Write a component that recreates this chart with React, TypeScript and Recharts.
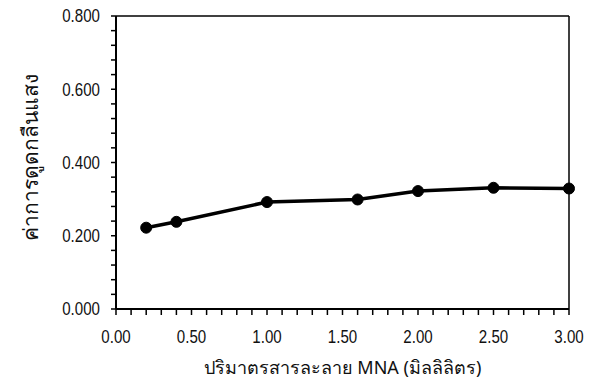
import { LineChart, Line, XAxis, YAxis, ReferenceLine, Label } from 'recharts';

// MNA volume (ml) vs absorbance
const volumes = [0.2, 0.4, 1.0, 1.6, 2.0, 2.5, 3.0];
const absorbance = [0.222, 0.238, 0.292, 0.299, 0.322, 0.331, 0.329];

const xTicks = [
	0, 0.1, 0.2, 0.3, 0.4, 0.5, 0.6, 0.7, 0.8, 0.9, 1.0, 1.1, 1.2, 1.3, 1.4, 1.5,
	1.6, 1.7, 1.8, 1.9, 2.0, 2.1, 2.2, 2.3, 2.4, 2.5, 2.6, 2.7, 2.8, 2.9, 3.0,
];
const xLabels = ['0.00', '0.50', '1.00', '1.50', '2.00', '2.50', '3.00'];
const yTicks = [
	0, 0.04, 0.08, 0.12, 0.16, 0.2, 0.24, 0.28, 0.32, 0.36, 0.4, 0.44, 0.48, 0.52,
	0.56, 0.6, 0.64, 0.68, 0.72, 0.76, 0.8,
];
const yLabels = ['0.000', '0.200', '0.400', '0.600', '0.800'];

const xTitle = 'ปริมาตรสารละลาย MNA (มิลลิลิตร)';
const yTitle = 'ค่าการดูดกลืนแสง';

const data = volumes.map((v, i) => ({ x: v, y: absorbance[i] }));

const FONT = '"Liberation Sans", Arial, sans-serif';
const THAI = '"Noto Sans", sans-serif';

// narrow-looking tick text (squeezed horizontally)
function XTick(props: any) {
	const { x, y, payload } = props;
	const s = Number(payload.value).toFixed(2);
	if (!xLabels.includes(s)) return null;
	return (
		<text
			transform={`translate(${x},${y}) scale(0.84,1)`}
			textAnchor="middle"
			dy="0.71em"
			fontSize={18}
			fontFamily={FONT}
			fill="#111"
		>
			{s}
		</text>
	);
}

function YTick(props: any) {
	const { x, y, payload } = props;
	const s = Number(payload.value).toFixed(3);
	if (!yLabels.includes(s)) return null;
	return (
		<text
			transform={`translate(${x},${y}) scale(0.84,1)`}
			textAnchor="end"
			dy="0.355em"
			fontSize={18}
			fontFamily={FONT}
			fill="#111"
		>
			{s}
		</text>
	);
}

function YTitle(props: any) {
	const vb = props.viewBox || {};
	const cx = 30;
	const cy = vb.y + vb.height / 2 - 5;
	return (
		<text
			x={cx}
			y={cy}
			transform={`rotate(-90, ${cx}, ${cy})`}
			textAnchor="middle"
			dominantBaseline="central"
			fontSize={21}
			fontFamily={THAI}
			fill="#111"
		>
			{yTitle}
		</text>
	);
}

export default function App() {
	return (
		<div style={{ position: 'absolute', left: 0, top: 0, background: '#fff' }}>
			<LineChart
				width={593}
				height={379}
				data={data}
				margin={{ top: 16, right: 24, left: 0, bottom: 0 }}
			>
				<XAxis
					type="number"
					dataKey="x"
					domain={[0, 3]}
					ticks={xTicks}
					interval={0}
					height={70}
					tickSize={6}
					tickMargin={15}
					axisLine={{ stroke: '#000', strokeWidth: 2 }}
					tickLine={{ stroke: '#000', strokeWidth: 1.5 }}
					tick={<XTick />}
					label={{
						value: xTitle,
						position: 'insideBottom',
						offset: 5,
						fill: '#111',
						fontSize: 18,
						fontFamily: THAI,
					}}
				/>
				<YAxis
					type="number"
					domain={[0, 0.8]}
					ticks={yTicks}
					interval={0}
					width={116}
					tickSize={5}
					tickMargin={11}
					axisLine={{ stroke: '#000', strokeWidth: 2 }}
					tickLine={{ stroke: '#000', strokeWidth: 1.5 }}
					tick={<YTick />}
				>
					<Label content={<YTitle />} />
				</YAxis>
				<ReferenceLine y={0.8} stroke="#000" strokeWidth={1.5} />
				<ReferenceLine x={3} stroke="#000" strokeWidth={1.5} />
				<Line
					type="linear"
					dataKey="y"
					stroke="#000"
					strokeWidth={3.5}
					dot={{ r: 5.5, fill: '#000', stroke: '#000', strokeWidth: 1 }}
					activeDot={false}
					isAnimationActive={false}
				/>
			</LineChart>
		</div>
	);
}
